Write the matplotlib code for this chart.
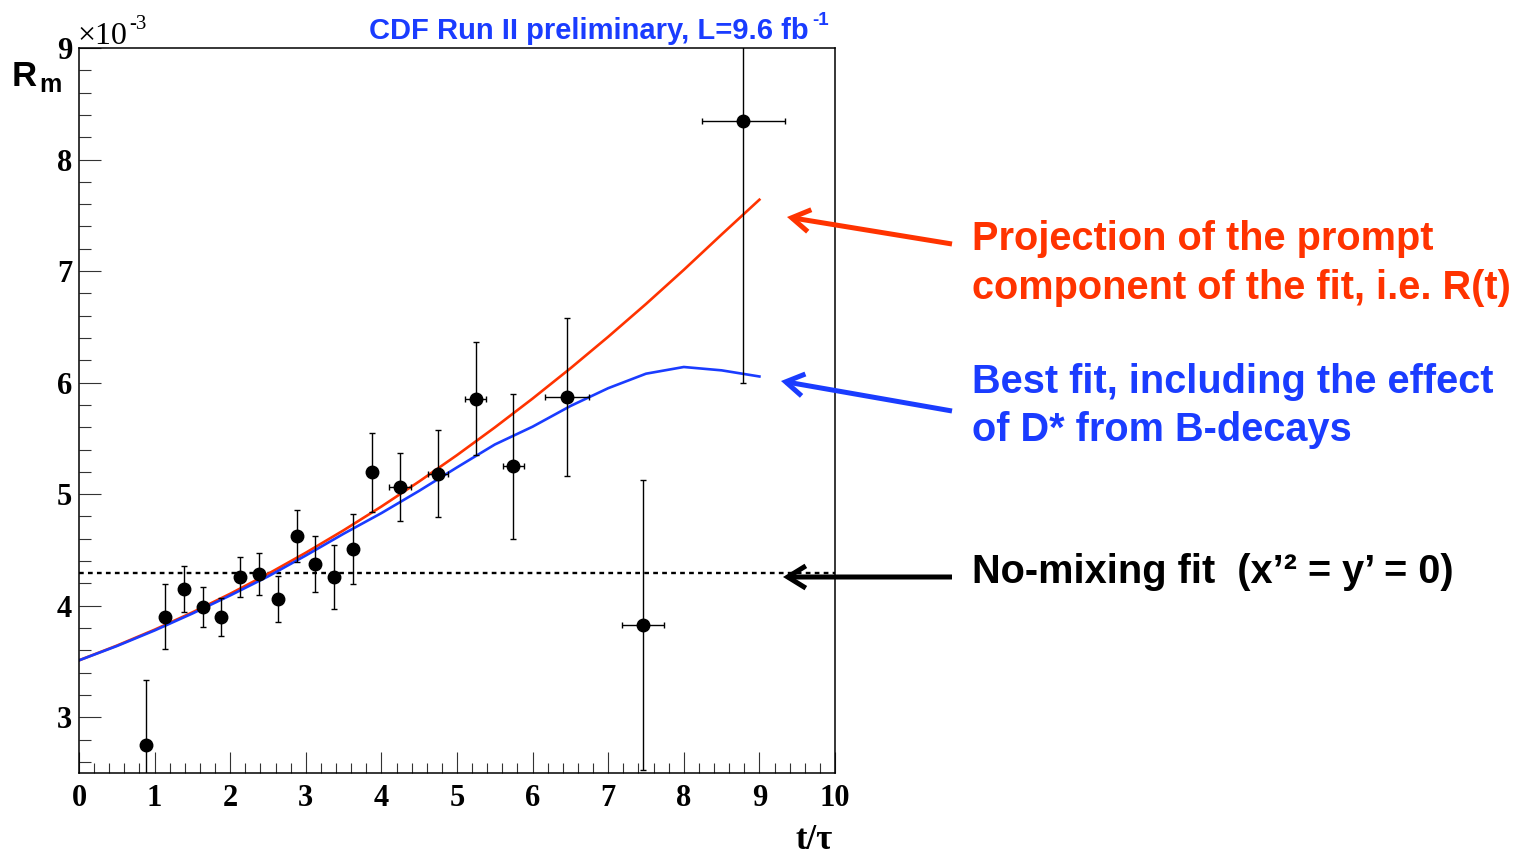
import matplotlib
matplotlib.use('Agg')
import matplotlib.pyplot as plt
from matplotlib.patches import FancyArrowPatch
from matplotlib.ticker import MultipleLocator

# R_m (units of 1e-3) vs t/tau
t_bin = [0.886, 1.138, 1.385, 1.636, 1.882, 2.130, 2.381, 2.628, 2.880, 3.126,
         3.373, 3.624, 3.872, 4.250, 4.749, 5.247, 5.745, 6.459, 7.456, 8.787]
t_err = [0, 0, 0, 0, 0, 0, 0, 0, 0, 0,
         0, 0, 0, 0.145, 0.137, 0.14, 0.14, 0.29, 0.28, 0.55]
rm = [2.752, 3.902, 4.149, 3.985, 3.902, 4.260, 4.283, 4.060, 4.624, 4.376,
      4.256, 4.511, 5.197, 5.062, 5.182, 5.857, 5.250, 5.872, 3.827, 8.349]
rm_err = [0.58, 0.29, 0.21, 0.18, 0.17, 0.18, 0.19, 0.21, 0.23, 0.25,
          0.285, 0.315, 0.355, 0.305, 0.39, 0.51, 0.65, 0.705, 1.30, 2.35]

# fit curves
t_curve = [0.0, 0.5, 1.0, 1.5, 2.0, 2.5, 3.0, 3.5, 4.0, 4.5,
           5.0, 5.5, 6.0, 6.5, 7.0, 7.5, 8.0, 8.5, 9.0]
rm_prompt = [3.51, 3.642, 3.785, 3.940, 4.107, 4.285, 4.475, 4.676, 4.889, 5.114,
             5.350, 5.598, 5.857, 6.128, 6.411, 6.705, 7.011, 7.328, 7.640]
rm_best = [3.51, 3.638, 3.778, 3.930, 4.092, 4.262, 4.450, 4.645, 4.830, 5.030,
           5.240, 5.445, 5.605, 5.790, 5.950, 6.080, 6.140, 6.110, 6.055]
rm_nomix = 4.296

RED = '#ff3300'
BLUE = '#1a3cff'
W, H = 1515, 856


def fp(x, y):
    # image pixel (from top-left) -> figure fraction
    return x / W, 1 - y / H


fig = plt.figure(figsize=(W / 100, H / 100), dpi=100)
ax = fig.add_axes([79 / W, 1 - 773 / H, (835 - 79) / W, (773 - 48) / H])

ax.axhline(rm_nomix, color='black', lw=1.7, ls=(0, (2, 1.8)), zorder=1)
ax.plot(t_curve, rm_prompt, color=RED, lw=1.9, zorder=2)
ax.plot(t_curve, rm_best, color=BLUE, lw=1.9, zorder=2)
ax.errorbar(t_bin, rm, yerr=rm_err, xerr=t_err, fmt='o', color='black',
            ms=9, elinewidth=1.0, capsize=2.2, capthick=1.0, zorder=3)

ax.set_xlim(0, 10)
ax.set_ylim(2.5, 9)
ax.xaxis.set_major_locator(MultipleLocator(1))
ax.xaxis.set_minor_locator(MultipleLocator(0.2))
ax.yaxis.set_major_locator(MultipleLocator(1))
ax.yaxis.set_minor_locator(MultipleLocator(0.2))
for s in ax.spines.values():
    s.set_linewidth(1.1)
ax.tick_params(which='both', direction='in', top=False, right=False,
               width=0.8, color='#333333')
ax.tick_params(axis='y', which='major', length=16, pad=5)
ax.tick_params(axis='y', which='minor', length=8.5)
ax.tick_params(axis='x', which='major', length=15, pad=8)
ax.tick_params(axis='x', which='minor', length=7.5)
for lbl in ax.get_xticklabels() + ax.get_yticklabels():
    lbl.set_family('Liberation Serif')
    lbl.set_weight('bold')
    lbl.set_fontsize(22)

# axis titles and exponent
serif = dict(family='Liberation Serif', color='black')
fig.text(*fp(77, 44), '\u00d710', fontsize=23, ha='left', va='baseline', **serif)
fig.text(*fp(129, 29), '-3', fontsize=15, ha='left', va='baseline', **serif)
fig.text(*fp(833, 849), 't/\u03c4', fontsize=25, weight='bold', ha='right',
         va='baseline', **serif)
sans = dict(family='Liberation Sans', weight='bold')
fig.text(*fp(12, 86), 'R', fontsize=25, ha='left', va='baseline', **sans)
fig.text(*fp(39, 92), 'm', fontsize=18, ha='left', va='baseline', **sans)

# header
fig.text(*fp(809, 39), 'CDF Run II preliminary, L=9.6 fb', fontsize=21,
         color=BLUE, ha='right', va='baseline', **sans)
fig.text(*fp(812, 25), '-1', fontsize=13.5, color=BLUE, ha='left',
         va='baseline', **sans)

# annotations on the right
notes = [
    (250, 'Projection of the prompt', RED),
    (299, 'component of the fit, i.e. R(t)', RED),
    (393, 'Best fit, including the effect', BLUE),
    (441, 'of D* from B-decays', BLUE),
    (583, 'No-mixing fit  (x\u2019\u00b2 = y\u2019 = 0)', 'black'),
]
for y, txt, c in notes:
    fig.text(*fp(972, y), txt, fontsize=28.6, color=c, ha='left',
             va='baseline', **sans)

arrows = [((952, 244), (787, 217), RED),
          ((952, 411), (781, 381), BLUE),
          ((952, 577), (783, 577), 'black')]
for tail, tip, c in arrows:
    fig.add_artist(FancyArrowPatch(fp(*tail), fp(*tip), transform=fig.transFigure,
                                   arrowstyle='->,head_length=1.3,head_width=0.8',
                                   mutation_scale=10, lw=3.6, color=c,
                                   shrinkA=0, shrinkB=0, capstyle='butt',
                                   joinstyle='miter'))

fig.savefig('out.png', dpi=100)
